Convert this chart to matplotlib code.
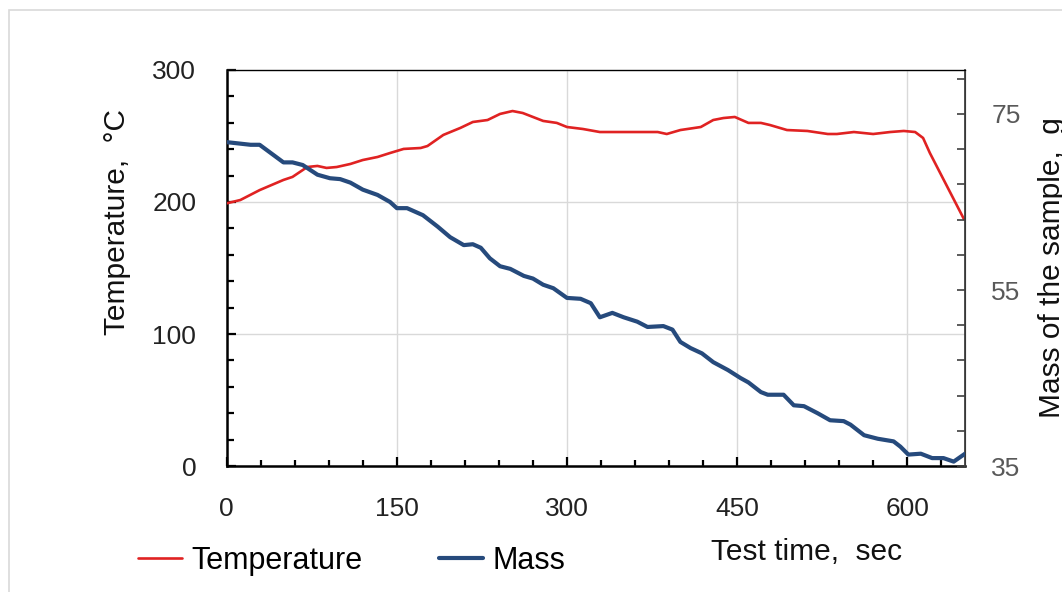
import numpy as np
import matplotlib.pyplot as plt
from matplotlib.patches import Rectangle
from matplotlib.ticker import MultipleLocator, FixedLocator, FuncFormatter

plt.rcParams['font.family'] = ['Liberation Sans', 'DejaVu Sans']

# Temperature readings (test time, sec / temperature, C)
temp_time = [0, 12, 29, 50, 58, 71, 80, 88, 97, 109, 120, 133, 144, 156, 171, 177,
             191, 206, 217, 230, 241, 252, 261, 270, 279, 291, 300, 314, 329, 350,
             380, 388, 400, 418, 429, 438, 448, 460, 471, 479, 494, 512, 530, 538,
             553, 570, 585, 597, 607, 614, 620, 650]
temp_vals = [199, 201.5, 209, 216.7, 219, 226.5, 227.3, 225.8, 226.5, 228.8, 231.8,
             234.1, 237.1, 240.2, 240.9, 242.4, 250.8, 256.1, 260.6, 262.1, 266.7,
             268.9, 267.4, 264.4, 261.4, 259.9, 256.8, 255.3, 253, 253, 253, 251.5,
             254.5, 256.8, 262.1, 263.6, 264.4, 259.9, 259.9, 258.3, 254.5, 253.8,
             251.5, 251.5, 253, 251.5, 253, 253.8, 253, 248.5, 237.1, 187.1]

# Mass of the sample readings (test time, sec / mass, g)
mass_time = [0, 21, 29, 50, 58, 67, 80, 91, 100, 109, 120, 133, 144, 150, 159, 173,
             186, 197, 209, 217, 224, 232, 241, 250, 262, 270, 279, 288, 300, 312,
             321, 329, 340, 350, 362, 371, 385, 393, 400, 409, 419, 429, 442, 453,
             460, 471, 477, 491, 500, 509, 521, 532, 544, 550, 562, 574, 588, 594,
             601, 612, 622, 632, 641, 651]
mass_vals = [71.8, 71.5, 71.5, 69.5, 69.5, 69.2, 68.1, 67.7, 67.6, 67.2, 66.4, 65.8,
             65.0, 64.3, 64.3, 63.5, 62.2, 61.0, 60.1, 60.2, 59.8, 58.6, 57.7, 57.4,
             56.6, 56.3, 55.6, 55.2, 54.1, 54.0, 53.5, 51.9, 52.4, 51.9, 51.4, 50.8,
             50.9, 50.5, 49.1, 48.4, 47.8, 46.8, 45.9, 45.0, 44.5, 43.4, 43.1, 43.1,
             41.9, 41.8, 41.0, 40.2, 40.1, 39.7, 38.5, 38.1, 37.8, 37.2, 36.3, 36.4,
             35.9, 35.9, 35.5, 36.4]

red = '#e02222'
blue = '#264a7c'
grid_col = '#d9d9d9'

fig = plt.figure(figsize=(10.62, 5.92), dpi=100)
ax = fig.add_axes([0.2135, 0.2128, 0.6952, 0.669])

# light gray frame round the figure
fig.patches.append(Rectangle((0.0085, -0.1), 1.2, 1.083, transform=fig.transFigure,
                             fill=False, edgecolor=grid_col, lw=1.2))

l1, = ax.plot(temp_time, temp_vals, color=red, lw=1.9, solid_joinstyle='round',
              solid_capstyle='round', label='Temperature', zorder=3)
ax.set_xlim(0, 651)
ax.set_ylim(0, 300)

ax.xaxis.set_major_locator(MultipleLocator(150))
ax.xaxis.set_minor_locator(MultipleLocator(30))
ax.yaxis.set_major_locator(MultipleLocator(100))
ax.yaxis.set_minor_locator(MultipleLocator(20))
ax.grid(True, which='major', color=grid_col, lw=1)
ax.set_axisbelow(True)

ax.tick_params(axis='both', which='both', direction='in', width=1.6, colors='black',
               labelcolor='#222222', labelsize=19)
ax.tick_params(axis='x', which='major', length=6.5, pad=22)
ax.tick_params(axis='x', which='minor', length=4.5)
ax.tick_params(axis='y', which='major', length=6.5, pad=22)
ax.tick_params(axis='y', which='minor', length=5)

for s in ['left', 'bottom']:
    ax.spines[s].set_linewidth(1.8)
    ax.spines[s].set_color('black')
ax.spines['top'].set_color('#595959')
ax.spines['top'].set_linewidth(1)

ax2 = ax.twinx()
l2, = ax2.plot(mass_time, mass_vals, color=blue, lw=3, solid_joinstyle='round',
               solid_capstyle='round', label='Mass', zorder=3)
ax2.set_ylim(35, 80)
ax2.yaxis.set_major_locator(FixedLocator(np.arange(35, 80, 4)))
ax2.yaxis.set_major_formatter(FuncFormatter(lambda v, p: f'{v:.0f}' if round(v) in (35, 55, 75) else ''))
ax2.tick_params(axis='y', direction='in', length=6, width=1.2, colors='#404040',
                labelcolor='#595959', labelsize=19, pad=19)
ax2.spines['right'].set_color('#404040')
ax2.spines['right'].set_linewidth(1.3)
for s in ['left', 'bottom']:
    ax2.spines[s].set_visible(False)

fig.text(0.110, 1 - 222 / 592, 'Temperature,  °C', rotation=90, ha='center', va='center',
         fontsize=21.5, color='#111111')
fig.text(1052 / 1062, 1 - 268 / 592, 'Mass of the sample,  g', rotation=90, ha='center',
         va='center', fontsize=21.5, color='#111111')
fig.text(711 / 1062, 1 - 552 / 592, 'Test time,  sec', ha='left', va='center',
         fontsize=21.5, color='#111111')

fig.legend(handles=[l1, l2], loc='center left', bbox_to_anchor=(138 / 1062, 1 - 561 / 592),
           ncol=2, frameon=False, fontsize=22, handlelength=1.45, handletextpad=0.3,
           columnspacing=2.5, borderpad=0, borderaxespad=0)

fig.savefig('out.png', dpi=100)
